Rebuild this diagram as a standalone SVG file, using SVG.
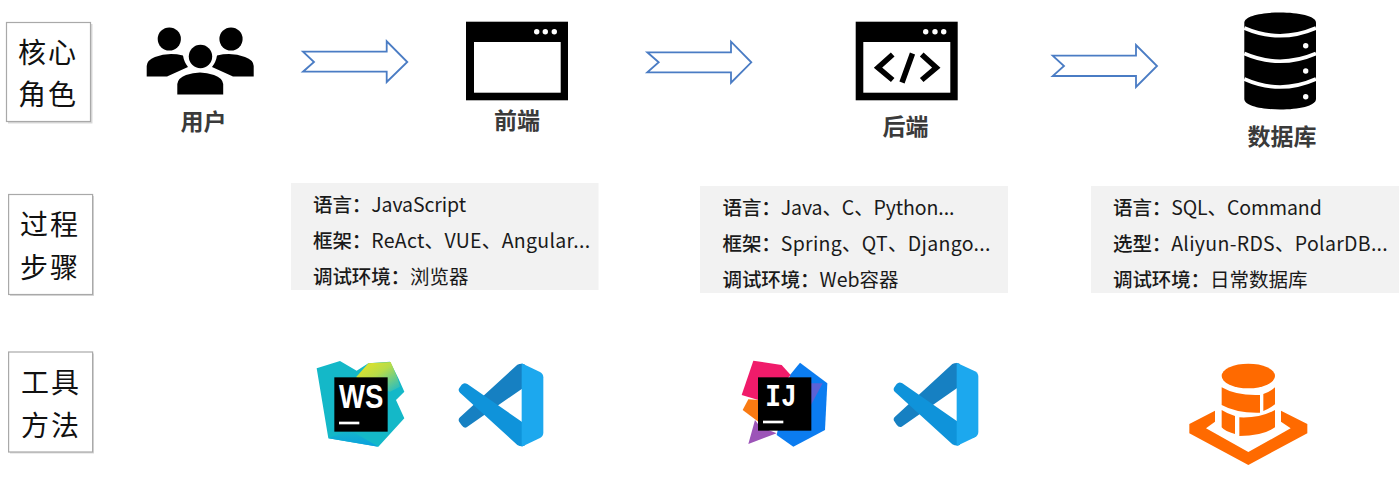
<svg xmlns="http://www.w3.org/2000/svg" xmlns:xlink="http://www.w3.org/1999/xlink" width="1400" height="481" viewBox="0 0 1400 481">
<style>
text{font-family:"Noto Sans CJK SC","Noto Sans",sans-serif}
.box{fill:#fff;stroke:#a9a9a9;stroke-width:1.2}
.shadow{fill:#d9d9d9}
.side{font-size:28px;fill:#111;letter-spacing:2px;text-anchor:middle}
.name{font-size:23px;font-weight:700;fill:#3a3a3a;text-anchor:middle}
.panel{fill:#f2f2f2}
.line{font-size:19.5px;fill:#1a1a1a}
.key{font-weight:500;letter-spacing:-.1px}
.wide{letter-spacing:.3px}
.tight{letter-spacing:-.1px}
.arrow{fill:#fff;stroke:#4a7cc4;stroke-width:1.8}
.ws{fill:#fff}
</style>
<defs>
<linearGradient id="wsY" x1="0" y1="0" x2="1" y2="1"><stop offset="0" stop-color="#f0e41c"/><stop offset=".45" stop-color="#b6dc4a"/><stop offset="1" stop-color="#16b9cf"/></linearGradient>
<linearGradient id="wsB" x1="0" y1="0" x2="0" y2="1"><stop offset="0" stop-color="#16b7c9"/><stop offset="1" stop-color="#0a9fe0"/></linearGradient>
<g id="vs">
<path d="M682 44Q695 38 705 44L705 110L530 232Q522 236 515 226L508 216Q503 208 510 202Z" fill="#1680c2"/>
<path d="M510 128Q503 122 508 114L515 104Q522 96 532 102L705 222V286Q695 292 682 285Z" fill="#0f93da"/>
<path d="M695 40L750 66Q760 72 760 82V248Q760 258 750 264L695 290Z" fill="#1ca8ee"/>
</g>
</defs>

<g id="connectors">
<polygon class="arrow" points="303,51.7 386.7,51.7 386.7,41.3 407.3,62 386.7,82 386.7,71.7 303,71.7 314,62"/>
<polygon class="arrow" points="647.3,52.3 731,52.3 731,41.7 751.3,62.3 731,82.7 731,72.3 647.3,72.3 658.7,62.3"/>
<polygon class="arrow" points="1052.7,55.7 1136,55.7 1136,45 1157,66 1136,87 1136,76 1052.7,76 1064,66"/>
</g>

<g id="side-core">
<rect class="shadow" x="8" y="24" width="84.5" height="99.5"/>
<rect class="box" x="6.5" y="22.5" width="84" height="99"/>
<text class="side" x="48" y="63">核心</text>
<text class="side" x="48" y="105">角色</text>
</g>
<g id="side-process">
<rect class="shadow" x="10" y="196" width="84" height="100"/>
<rect class="box" x="8.6" y="194.5" width="84" height="100"/>
<text class="side" x="50" y="235">过程</text>
<text class="side" x="50" y="278">步骤</text>
</g>
<g id="side-tools">
<rect class="shadow" x="10" y="353.5" width="84" height="100"/>
<rect class="box" x="8.6" y="352" width="84" height="100"/>
<text class="side" x="51" y="393">工具</text>
<text class="side" x="51" y="436">方法</text>
</g>

<g id="user">
<circle cx="169.3" cy="39" r="11.6"/>
<circle cx="231" cy="39" r="11.6"/>
<path d="M146.700 76.500V66Q147 60 155 57Q168 52 183 55.500Q184 62 188 67L167 76.500ZM253.700 76.500V66Q253.500 60 245 57Q232 52 217 55.500Q216 62 212 67L233 76.500Z"/>
<circle cx="200.500" cy="56.500" r="11.700"/>
<path d="M177.300 94.500V84Q178 78 186 75Q200 70 214 75Q222.500 78 223.200 84V94.500Z"/>
<text class="name" x="203.500" y="130">用户</text>
</g>

<g id="frontend">
<rect x="466" y="21.700" width="102" height="78.600"/>
<rect x="474" y="42" width="86.700" height="50.700" fill="#fff"/>
<g fill="#fff"><circle cx="536.700" cy="31.700" r="2.700"/><circle cx="545.300" cy="31.700" r="2.700"/><circle cx="554.300" cy="31.700" r="2.700"/></g>
<text class="name" x="517" y="129">前端</text>
</g>

<g id="backend">
<rect x="855.700" y="21.700" width="102" height="78.600"/>
<rect x="863.300" y="42" width="87" height="50.700" fill="#fff"/>
<g fill="#fff"><circle cx="925.700" cy="31.700" r="2.700"/><circle cx="935" cy="31.700" r="2.700"/><circle cx="943.700" cy="31.700" r="2.700"/></g>
<path d="M892.700 54.500L878 67.700L892.700 80M912.500 53.500L902 82.500M921.700 54.500L936.300 67.700L921.700 80" fill="none" stroke="#000" stroke-width="5.500"/>
<text class="name" x="905.500" y="135">后端</text>
</g>

<g id="database">
<path d="M1244.300 22.700C1244.300 9 1316 9 1316 22.700V99C1316 113 1244.300 113 1244.300 99Z"/>
<path d="M1244.300 28Q1280 43.500 1316 28M1244.300 53.500Q1280 69 1316 53.500M1244.300 79Q1280 95 1316 79" fill="none" stroke="#fff" stroke-width="3.600"/>
<g fill="#fff"><circle cx="1305.700" cy="45.700" r="2.700"/><circle cx="1305.700" cy="71" r="2.700"/><circle cx="1305.700" cy="96.700" r="2.700"/></g>
<text class="name" x="1282" y="145">数据库</text>
</g>

<g id="panel-frontend">
<rect class="panel" x="291" y="183" width="307.500" height="107"/>
<text class="line" x="313" y="211.500"><tspan class="key">语言：</tspan><tspan class="tight">JavaScript</tspan></text>
<text class="line" x="313" y="247.500"><tspan class="key">框架：</tspan><tspan class="wide">ReAct、VUE、Angular...</tspan></text>
<text class="line" x="313" y="284"><tspan class="key">调试环境：</tspan>浏览器</text>
</g>
<g id="panel-backend">
<rect class="panel" x="700" y="186" width="308" height="107"/>
<text class="line" x="722.500" y="214.500"><tspan class="key">语言：</tspan><tspan class="tight">Java、C、Python...</tspan></text>
<text class="line" x="722.500" y="250.500"><tspan class="key">框架：</tspan><tspan class="wide">Spring、QT、Django...</tspan></text>
<text class="line" x="722.500" y="287"><tspan class="key">调试环境：</tspan>Web容器</text>
</g>
<g id="panel-database">
<rect class="panel" x="1091" y="186" width="308" height="107"/>
<text class="line" x="1113" y="214.500"><tspan class="key">语言：</tspan><tspan class="tight">SQL、Command</tspan></text>
<text class="line" x="1113" y="250.500"><tspan class="key">选型：</tspan><tspan class="wide">Aliyun-RDS、PolarDB...</tspan></text>
<text class="line" x="1113" y="287"><tspan class="key">调试环境：</tspan>日常数据库</text>
</g>

<g id="webstorm" transform="translate(290 350) scale(.33333)">
<polygon points="80,55 150,33 200,62 235,40 300,35 325,85 343,125 318,150 343,205 265,290 115,265" fill="#14b8c8"/>
<polygon points="198,82 235,40 302,36 322,82 330,110 300,125" fill="url(#wsY)"/>
<polygon points="115,265 180,240 265,290" fill="url(#wsB)"/>
<rect x="133" y="82" width="160" height="163"/>
<text x="147" y="175" font-size="97" font-weight="700" fill="#fff" textLength="133" lengthAdjust="spacingAndGlyphs" style="font-family:'Liberation Sans',sans-serif">WS</text>
<rect class="ws" x="147" y="215" width="61" height="8"/>
</g>
<use id="vscode-1" xlink:href="#vs" href="#vs" transform="translate(290 350) scale(.33333)"/>

<g id="intellij" transform="translate(730 350) scale(.33333)">
<polygon points="210,38 292,100 285,240 190,290 140,255 180,75" fill="#0b7cf0"/>
<polygon points="240,100 278,100 240,170" fill="#5b62d6"/>
<polygon points="70,32 155,45 182,75 150,110 85,150 35,135" fill="#f01b6a"/>
<polygon points="55,148 38,180 85,215 90,150" fill="#f97a12"/>
<polygon points="75,210 55,282 140,250 90,230" fill="#9c54b8"/>
<rect x="84" y="82" width="160" height="160"/>
<text x="106" y="168" font-size="95" font-weight="700" fill="#fff" textLength="94" lengthAdjust="spacingAndGlyphs" style="font-family:'Liberation Mono',monospace">IJ</text>
<rect class="ws" x="99" y="212" width="61" height="8"/>
</g>
<use id="vscode-2" xlink:href="#vs" href="#vs" transform="translate(725 349.300) scale(.33333)"/>

<g id="aliyun" transform="translate(1170 350) scale(.33333)" fill="#ff6a00">
<ellipse cx="235" cy="78" rx="80" ry="37"/>
<path d="M155 112Q200 138 270 135V188Q200 190 155 165Z"/>
<path d="M280 132Q300 125 315 112V163Q300 175 280 183Z"/>
<path d="M155 180Q170 190 195 198V252Q165 245 155 232Z"/>
<path d="M208 202Q270 205 315 180V232Q280 258 208 258Z"/>
<polygon points="135,182 135,215 108,235 235,306 362,235 333,215 333,182 412,222 412,250 235,345 58,250 58,222"/>
</g>
</svg>
